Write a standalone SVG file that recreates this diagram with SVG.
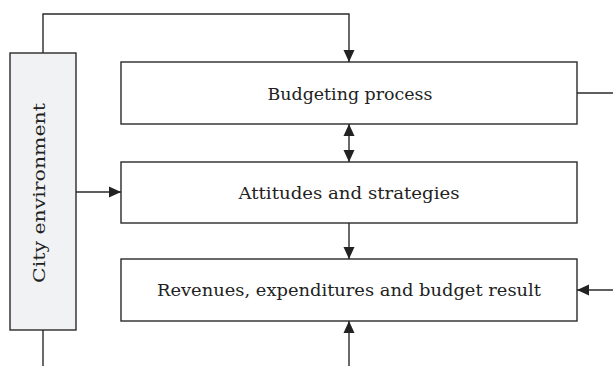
<svg xmlns="http://www.w3.org/2000/svg" width="613" height="366" viewBox="0 0 613 366">
  <style>
    .box { fill: #ffffff; stroke: #2a2a2a; stroke-width: 1.4; }
    .side { fill: #f1f2f4; stroke: #2a2a2a; stroke-width: 1.4; }
    .lbl { font-family: "DejaVu Serif", "Liberation Serif", serif; font-size: 16.5px; fill: #222222; text-anchor: middle; }
    .wire { fill: none; stroke: #2a2a2a; stroke-width: 1.4; }
  </style>
  <defs>
    <marker id="tip" viewBox="0 0 12 12" refX="12" refY="6" markerWidth="12" markerHeight="12" markerUnits="userSpaceOnUse" orient="auto-start-reverse">
      <path d="M0,0.5 L12,6 L0,11.5 Z" fill="#222222"/>
    </marker>
  </defs>

  <g id="city-environment">
    <rect class="side" x="10" y="53" width="66" height="277"/>
    <text class="lbl" transform="translate(45,193) rotate(-90)" textLength="180" lengthAdjust="spacingAndGlyphs">City environment</text>
  </g>

  <g id="budgeting-process">
    <rect class="box" x="121" y="62" width="456" height="62"/>
    <text class="lbl" x="350" y="99.5" textLength="165" lengthAdjust="spacingAndGlyphs">Budgeting process</text>
  </g>

  <g id="attitudes-strategies">
    <rect class="box" x="121" y="162" width="456" height="61"/>
    <text class="lbl" x="349" y="198.5" textLength="221" lengthAdjust="spacingAndGlyphs">Attitudes and strategies</text>
  </g>

  <g id="budget-result">
    <rect class="box" x="121" y="259" width="456" height="62"/>
    <text class="lbl" x="349" y="295.5" textLength="384" lengthAdjust="spacingAndGlyphs">Revenues, expenditures and budget result</text>
  </g>

  <g id="connectors">
    <!-- environment feeds the budgeting process from above -->
    <polyline class="wire" points="43,53 43,14 349,14 349,62" marker-end="url(#tip)"/>
    <!-- environment tail leaving below -->
    <line class="wire" x1="43" y1="330" x2="43" y2="366"/>
    <!-- environment to attitudes -->
    <line class="wire" x1="76" y1="192" x2="121" y2="192" marker-end="url(#tip)"/>
    <!-- two-way link between process and attitudes -->
    <line class="wire" x1="349" y1="124" x2="349" y2="162" marker-start="url(#tip)" marker-end="url(#tip)"/>
    <!-- attitudes to result -->
    <line class="wire" x1="349" y1="223" x2="349" y2="259" marker-end="url(#tip)"/>
    <!-- process output leaving to the right -->
    <line class="wire" x1="577" y1="93" x2="613" y2="93"/>
    <!-- input arriving from the right -->
    <line class="wire" x1="613" y1="290" x2="577" y2="290" marker-end="url(#tip)"/>
    <!-- input arriving from below -->
    <line class="wire" x1="349" y1="366" x2="349" y2="321" marker-end="url(#tip)"/>
  </g>
</svg>
